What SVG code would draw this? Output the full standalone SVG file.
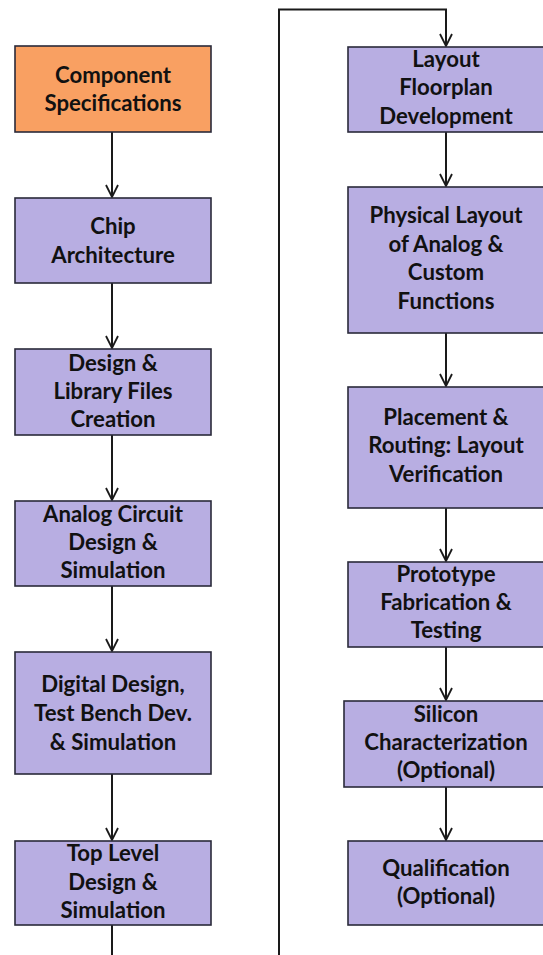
<svg xmlns="http://www.w3.org/2000/svg" width="543" height="955" viewBox="0 0 543 955">
<defs>
<style>
.box{fill:#B8AEE2;stroke:#2A2A3A;stroke-width:1.6}
.orange{fill:#F9A062}
.t{font-family:Lato,"Open Sans","Liberation Sans",sans-serif;font-weight:bold;font-size:22.2px;fill:#111;text-anchor:middle}
.ln{fill:none;stroke:#1a1a1a;stroke-width:2}
</style>
<marker id="ah" viewBox="0 0 14 14" refX="13" refY="7" markerWidth="14" markerHeight="14" markerUnits="userSpaceOnUse" orient="auto">
<path d="M1,1 L13,7 L1,13" fill="none" stroke="#1a1a1a" stroke-width="1.8"/>
</marker>
</defs>
<rect width="543" height="955" fill="#fff"/>
<g id="connectors">
<line class="ln" x1="112" y1="132" x2="112" y2="197" marker-end="url(#ah)"/>
<line class="ln" x1="112" y1="283" x2="112" y2="348" marker-end="url(#ah)"/>
<line class="ln" x1="112" y1="435" x2="112" y2="500" marker-end="url(#ah)"/>
<line class="ln" x1="112" y1="586" x2="112" y2="651" marker-end="url(#ah)"/>
<line class="ln" x1="112" y1="774" x2="112" y2="840" marker-end="url(#ah)"/>
<line class="ln" x1="112" y1="925" x2="112" y2="955"/>
<polyline class="ln" points="279,955 279,9.5 446,9.5 446,46" marker-end="url(#ah)"/>
<line class="ln" x1="446" y1="132" x2="446" y2="186" marker-end="url(#ah)"/>
<line class="ln" x1="446" y1="333" x2="446" y2="386" marker-end="url(#ah)"/>
<line class="ln" x1="446" y1="508" x2="446" y2="561" marker-end="url(#ah)"/>
<line class="ln" x1="446" y1="647" x2="446" y2="700" marker-end="url(#ah)"/>
<line class="ln" x1="446" y1="787" x2="446" y2="840" marker-end="url(#ah)"/>
</g>
<g id="n1">
<rect class="box orange" x="15" y="46" width="196" height="86"/>
<text class="t" x="113" y="83">Component</text>
<text class="t" x="113" y="111">Specifications</text>
</g>
<g id="n2">
<rect class="box" x="15" y="198" width="196" height="85"/>
<text class="t" x="113" y="234">Chip</text>
<text class="t" x="113" y="263">Architecture</text>
</g>
<g id="n3">
<rect class="box" x="15" y="349" width="196" height="86"/>
<text class="t" x="113" y="371">Design &amp;</text>
<text class="t" x="113" y="399">Library Files</text>
<text class="t" x="113" y="427">Creation</text>
</g>
<g id="n4">
<rect class="box" x="15" y="501" width="196" height="85"/>
<text class="t" x="113" y="522">Analog Circuit</text>
<text class="t" x="113" y="550">Design &amp;</text>
<text class="t" x="113" y="578">Simulation</text>
</g>
<g id="n5">
<rect class="box" x="15" y="652" width="196" height="122"/>
<text class="t" x="113" y="692">Digital Design,</text>
<text class="t" x="113" y="721">Test Bench Dev.</text>
<text class="t" x="113" y="750">&amp; Simulation</text>
</g>
<g id="n6">
<rect class="box" x="15" y="841" width="196" height="84"/>
<text class="t" x="113" y="861">Top Level</text>
<text class="t" x="113" y="890">Design &amp;</text>
<text class="t" x="113" y="918">Simulation</text>
</g>
<g id="r1">
<rect class="box" x="348" y="47" width="196" height="85"/>
<text class="t" x="446" y="67">Layout</text>
<text class="t" x="446" y="95">Floorplan</text>
<text class="t" x="446" y="124">Development</text>
</g>
<g id="r2">
<rect class="box" x="348" y="187" width="196" height="146"/>
<text class="t" x="446" y="223">Physical Layout</text>
<text class="t" x="446" y="252">of Analog &amp;</text>
<text class="t" x="446" y="280">Custom</text>
<text class="t" x="446" y="309">Functions</text>
</g>
<g id="r3">
<rect class="box" x="348" y="387" width="196" height="121"/>
<text class="t" x="446" y="425">Placement &amp;</text>
<text class="t" x="446" y="453">Routing: Layout</text>
<text class="t" x="446" y="482">Verification</text>
</g>
<g id="r4">
<rect class="box" x="348" y="562" width="196" height="85"/>
<text class="t" x="446" y="582">Prototype</text>
<text class="t" x="446" y="610">Fabrication &amp;</text>
<text class="t" x="446" y="638">Testing</text>
</g>
<g id="r5">
<rect class="box" x="344" y="701" width="200" height="86"/>
<text class="t" x="446" y="722">Silicon</text>
<text class="t" x="446" y="750">Characterization</text>
<text class="t" x="446" y="778">(Optional)</text>
</g>
<g id="r6">
<rect class="box" x="348" y="841" width="196" height="84"/>
<text class="t" x="446" y="876">Qualification</text>
<text class="t" x="446" y="904">(Optional)</text>
</g>
</svg>
